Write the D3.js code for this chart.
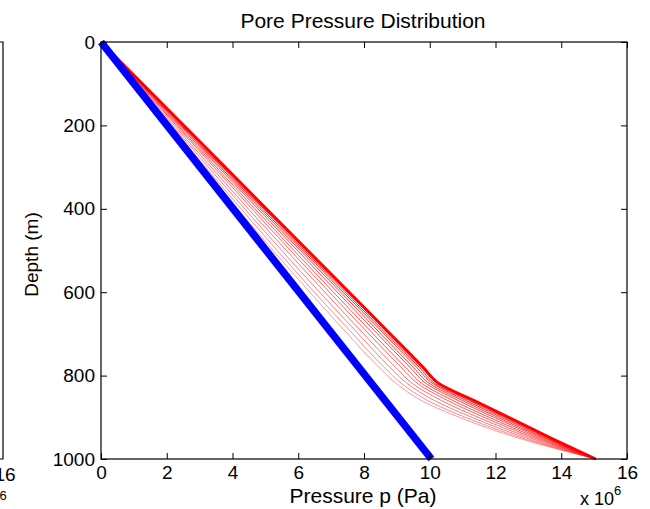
<!DOCTYPE html>
<html>
<head>
<meta charset="utf-8">
<script src="https://cdn.jsdelivr.net/npm/d3@7"></script>
<style>
  body { margin: 0; background: #fff; }
  svg { display: block; font-family: "Liberation Sans", Arial, sans-serif; }
  .tick text { font-size: 19px; fill: #000; }
</style>
</head>
<body>
<svg id="chart" width="650" height="509"></svg>
<script>
// depths (m) at which every pressure curve is sampled
const depths = [0, 200, 400, 600, 700, 780, 820, 860, 900, 950, 1000];

// hydrostatic line (Pa / 1e6)
const hydroDepth = [0, 1000];
const hydroPressure = [0, 10.05];

// pore pressure curves, innermost (earliest) to outermost (latest), Pa / 1e6
const redCurves = [
  [0, 2.05, 4.15, 6.35, 7.5, 8.45, 9.0, 9.75, 10.9, 12.7, 15.05],
  [0, 2.11, 4.26, 6.49, 7.66, 8.61, 9.16, 9.94, 11.08, 12.82, 15.05],
  [0, 2.17, 4.37, 6.65, 7.83, 8.79, 9.33, 10.15, 11.28, 12.95, 15.05],
  [0, 2.23, 4.48, 6.81, 7.99, 8.96, 9.49, 10.36, 11.47, 13.08, 15.05],
  [0, 2.29, 4.59, 6.95, 8.15, 9.13, 9.65, 10.55, 11.65, 13.2, 15.05],
  [0, 2.33, 4.68, 7.07, 8.28, 9.26, 9.78, 10.71, 11.8, 13.3, 15.05],
  [0, 2.38, 4.77, 7.19, 8.41, 9.4, 9.91, 10.87, 11.95, 13.4, 15.05],
  [0, 2.42, 4.84, 7.29, 8.51, 9.5, 10.01, 11.0, 12.07, 13.48, 15.05],
  [0, 2.45, 4.9, 7.37, 8.61, 9.6, 10.11, 11.11, 12.18, 13.55, 15.05],
  [0, 2.48, 4.95, 7.44, 8.68, 9.68, 10.18, 11.21, 12.27, 13.61, 15.05],
  [0, 2.5, 4.99, 7.5, 8.75, 9.75, 10.25, 11.29, 12.34, 13.66, 15.05],
  [0, 2.52, 5.03, 7.55, 8.8, 9.8, 10.3, 11.35, 12.4, 13.7, 15.05],
];

const xTicks = [0, 2, 4, 6, 8, 10, 12, 14, 16];
const yTicks = [0, 200, 400, 600, 800, 1000];

const plotLeft = 101;
const plotTop = 42;
const plotWidth = 526;
const plotHeight = 417;
const tickLen = 6;

const svg = d3.select("#chart");

// right edge of the neighbouring subplot (cut off in the source image)
const prev = svg.append("g").attr("transform", "translate(3,0)");
prev
  .append("path")
  .attr("d", `M-20,${plotTop}H0V${plotTop + plotHeight}H-20`)
  .attr("fill", "none")
  .attr("stroke", "#000")
  .attr("stroke-width", 1.2);
prev
  .append("text")
  .attr("x", 2)
  .attr("y", plotTop + plotHeight + 22)
  .attr("text-anchor", "middle")
  .style("font-size", "19px")
  .text("16");
prev
  .append("text")
  .attr("x", 0)
  .attr("y", plotTop + plotHeight + 41)
  .attr("text-anchor", "middle")
  .style("font-size", "13px")
  .text("6");

const x = d3.scaleLinear().domain([0, 16]).range([plotLeft, plotLeft + plotWidth]);
const y = d3.scaleLinear().domain([0, 1000]).range([plotTop, plotTop + plotHeight]);

const line = d3
  .line()
  .x((d) => x(d[0]))
  .y((d) => y(d[1]))
  .curve(d3.curveMonotoneY);

const n = redCurves.length;
svg
  .append("g")
  .selectAll("path")
  .data(redCurves)
  .enter()
  .append("path")
  .attr("d", (c) => line(c.map((p, i) => [p, depths[i]])))
  .attr("fill", "none")
  .attr("stroke", "#ff0000")
  .attr("stroke-opacity", (_, i) => 0.4 + (0.6 * i) / (n - 1))
  .attr("stroke-width", (_, i) => (i === n - 1 ? 2.8 : 1));

svg
  .append("path")
  .attr("d", d3.line().x((d) => x(d[0])).y((d) => y(d[1]))(
    hydroPressure.map((p, i) => [p, hydroDepth[i]])
  ))
  .attr("fill", "none")
  .attr("stroke", "#0000ff")
  .attr("stroke-width", 7.5);

// axes, ticks pointing inwards on all four sides
svg
  .append("g")
  .attr("transform", `translate(0,${plotTop + plotHeight})`)
  .call(d3.axisBottom(x).tickValues(xTicks).tickFormat(d3.format("d"))
    .tickSizeInner(-tickLen).tickSizeOuter(0).tickPadding(7));

svg
  .append("g")
  .attr("transform", `translate(0,${plotTop})`)
  .call(d3.axisTop(x).tickValues(xTicks).tickSizeInner(-tickLen).tickSizeOuter(0).tickFormat(""));

svg
  .append("g")
  .attr("transform", `translate(${plotLeft},0)`)
  .call(d3.axisLeft(y).tickValues(yTicks).tickFormat(d3.format("d"))
    .tickSizeInner(-tickLen).tickSizeOuter(0).tickPadding(6));

svg
  .append("g")
  .attr("transform", `translate(${plotLeft + plotWidth},0)`)
  .call(d3.axisRight(y).tickValues(yTicks).tickSizeInner(-tickLen).tickSizeOuter(0).tickFormat(""));

svg.selectAll(".domain").remove();
svg.selectAll(".tick line").attr("stroke", "#000");

svg
  .append("rect")
  .attr("x", plotLeft)
  .attr("y", plotTop)
  .attr("width", plotWidth)
  .attr("height", plotHeight)
  .attr("fill", "none")
  .attr("stroke", "#000")
  .attr("stroke-width", 1.2);

svg
  .append("text")
  .attr("x", 363)
  .attr("y", 28)
  .attr("text-anchor", "middle")
  .style("font-size", "21px")
  .text("Pore Pressure Distribution");

svg
  .append("text")
  .attr("x", 363)
  .attr("y", 503)
  .attr("text-anchor", "middle")
  .style("font-size", "21px")
  .text("Pressure p (Pa)");

svg
  .append("text")
  .attr("transform", `translate(38,${plotTop + plotHeight / 2 + 4}) rotate(-90)`)
  .attr("text-anchor", "middle")
  .style("font-size", "19px")
  .text("Depth (m)");

const expo = svg.append("text").attr("x", 580).attr("y", 505).style("font-size", "18px");
expo.append("tspan").text("x 10");
expo.append("tspan").attr("dy", -10).style("font-size", "13px").text("6");
</script>
</body>
</html>
